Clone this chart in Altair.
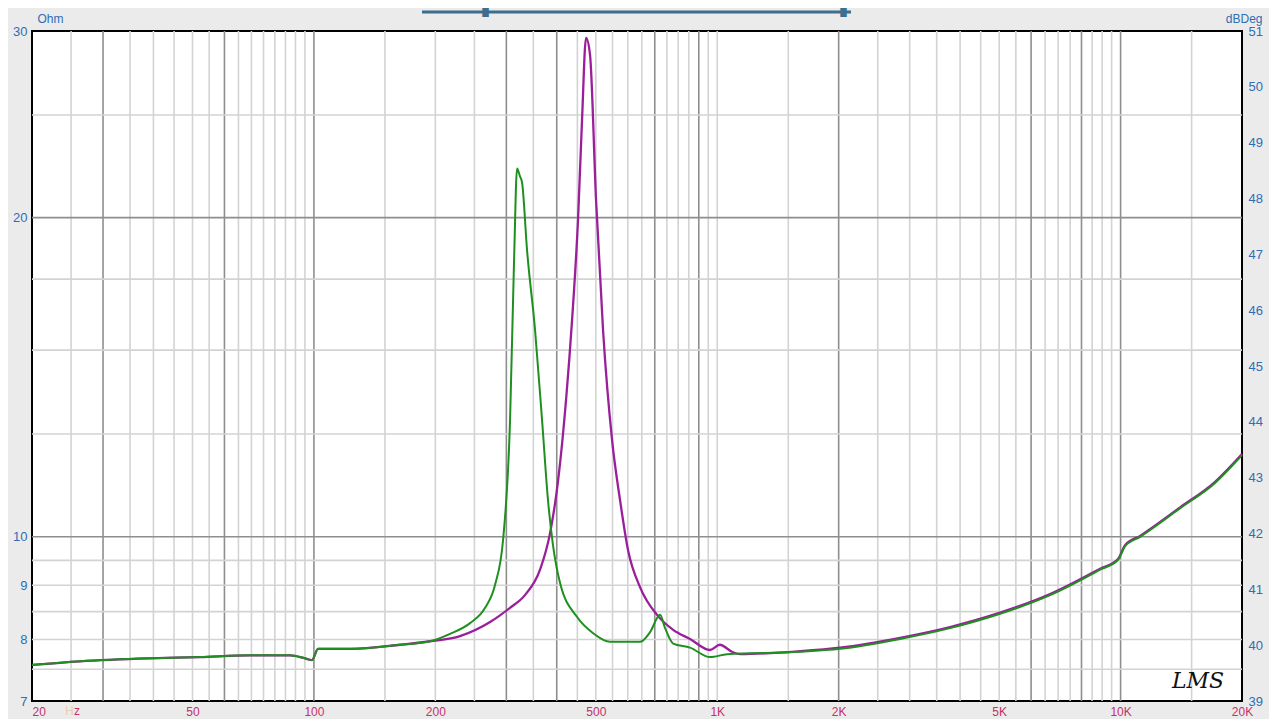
import altair as alt
import pandas as pd

# ---- data ----
green_freq = [20, 26.3, 39.2, 52.2, 69.4, 87.2, 95.0, 98.9, 102.4, 122.9, 163.5, 194.0, 217.5, 243.9,
              265.7, 281.3, 294.4, 306.4, 313.5, 318.9, 324.0, 328.1, 337.6, 353.4, 367.8, 380.5, 391.5,
              407.5, 449.3, 492.4, 542.2, 643.8, 681.5, 721.5, 742.4, 777.6, 855.9, 959.8, 1057.6, 1605,
              2016, 2840, 3777, 5026, 6688, 8897, 9858, 10260, 11180, 14050, 17150, 20000]
green_ohm = [7.57, 7.63, 7.68, 7.70, 7.73, 7.73, 7.68, 7.65, 7.84, 7.84, 7.91, 7.97, 8.10, 8.29,
             8.57, 9.01, 9.93, 12.89, 18.24, 22.25, 21.9, 21.6, 18.64, 15.67, 12.89, 10.83, 9.82,
             9.05, 8.40, 8.11, 7.96, 7.96, 8.13, 8.44, 8.20, 7.93, 7.86, 7.70, 7.75, 7.79,
             7.84, 8.01, 8.20, 8.46, 8.81, 9.31, 9.51, 9.80, 10.0, 10.64, 11.24, 11.94]

purple_freq = [20, 26.3, 39.2, 52.2, 69.4, 87.2, 95.0, 98.9, 102.4, 122.9, 163.5, 194.0, 230.3, 273.4,
               306.4, 333.6, 363.6, 385.0, 403.0, 421.8, 436.5, 451.6, 462.1, 472.8, 483.7, 500.6,
               521.0, 548.5, 574.1, 601.0, 643.8, 709.0, 777.6, 855.9, 959.8, 1015, 1088, 1139, 1605,
               2016, 2840, 3777, 5026, 6688, 8897, 9858, 10260, 11180, 14050, 17150, 20000]
purple_ohm = [7.57, 7.63, 7.68, 7.70, 7.73, 7.73, 7.68, 7.65, 7.84, 7.84, 7.91, 7.97, 8.06, 8.31,
              8.57, 8.81, 9.31, 10.08, 11.29, 13.46, 16.0, 19.9, 24.73, 29.55, 28.49, 20.78,
              15.67, 12.34, 10.83, 9.71, 8.96, 8.44, 8.17, 8.01, 7.82, 7.91, 7.79, 7.75, 7.80,
              7.86, 8.03, 8.22, 8.48, 8.83, 9.33, 9.53, 9.82, 10.02, 10.66, 11.27, 11.97]

x_ticks = [20, 50, 100, 200, 500, 1000, 2000, 5000, 10000, 20000]
ohm_ticks = [7, 8, 9, 10, 20, 30]
db_ticks = [39, 40, 41, 42, 43, 44, 45, 46, 47, 48, 49, 50, 51]

grid_v_minor = [25, 35, 40, 45, 50, 55, 65, 70, 75, 80, 85, 90, 95, 150, 200, 250, 350, 450, 500,
                550, 600, 650, 750, 800, 850, 950, 1000, 1500, 2500, 3000, 3500, 4000, 4500, 5000,
                5500, 6500, 7000, 7500, 8500, 9000, 9500, 15000]
grid_v_major = [30, 60, 100, 300, 400, 700, 900, 2000, 6000, 8000, 10000]
grid_h_minor = [7.5, 8, 8.5, 9, 9.5, 12.5, 15, 17.5, 25]
grid_h_major = [10, 20]

W, H = 1210, 670
FONT = "Liberation Sans"
BLUE = "#2f6db5"
RED = "#c4306a"

xscale = alt.Scale(type="log", domain=[20, 20000], nice=False)
yscale = alt.Scale(type="log", domain=[7, 30], nice=False)

xaxis = alt.Axis(values=x_ticks, grid=False, ticks=False, domain=False,
                 labelExpr="datum.value >= 1000 ? (datum.value / 1000) + 'K' : datum.value + ''",
                 labelFlush=False,
                 labelAlign=alt.condition("datum.value == 20", alt.value("left"), alt.value("center")),
                 labelColor=RED, labelFont=FONT, labelFontSize=12, labelPadding=5, title=None)
yaxis = alt.Axis(values=ohm_ticks, grid=False, ticks=False, domain=False, labelColor=BLUE,
                 labelFont=FONT, labelFontSize=13, labelPadding=5, labelFlush=False,
                 title="Ohm", titleAngle=0, titleX=5, titleY=-9, titleAlign="left",
                 titleBaseline="alphabetic", titleColor=BLUE, titleFont=FONT, titleFontSize=12,
                 titleFontWeight="normal")

X = lambda f: alt.X(f"{f}:Q", scale=xscale, axis=xaxis)
Y = lambda f: alt.Y(f"{f}:Q", scale=yscale, axis=yaxis)

vgrid = pd.DataFrame({"f": grid_v_minor + grid_v_major,
                      "major": [0] * len(grid_v_minor) + [1] * len(grid_v_major)})
hgrid = pd.DataFrame({"o": grid_h_minor + grid_h_major,
                      "major": [0] * len(grid_h_minor) + [1] * len(grid_h_major)})

gscale = alt.Scale(domain=[0, 1], range=["#d3d3d3", "#8e8e8e"])

vrules = alt.Chart(vgrid).mark_rule(strokeWidth=1.6).encode(
    x=X("f"), color=alt.Color("major:O", scale=gscale, legend=None))
hrules = alt.Chart(hgrid).mark_rule(strokeWidth=1.6).encode(
    y=Y("o"), color=alt.Color("major:O", scale=gscale, legend=None))

green_df = pd.DataFrame({"f": green_freq, "ohm": green_ohm})
purple_df = pd.DataFrame({"f": purple_freq, "ohm": purple_ohm})

purple_line = alt.Chart(purple_df).mark_line(color="#9a1f9a", strokeWidth=2.3,
                                             interpolate="monotone").encode(
    x=X("f"), y=Y("ohm"), order="f:Q")
green_line = alt.Chart(green_df).mark_line(color="#1f8f1f", strokeWidth=2.0,
                                           interpolate="monotone").encode(
    x=X("f"), y=Y("ohm"), order="f:Q")

hz_h = alt.Chart(pd.DataFrame({"t": ["H"]})).mark_text(
    font=FONT, fontSize=12, color="#e6cfb0", baseline="top", align="left").encode(
    text="t:N", x=alt.value(33), y=alt.value(H + 5))
hz_z = alt.Chart(pd.DataFrame({"t": ["z"]})).mark_text(
    font=FONT, fontSize=12, color=RED, baseline="top", align="left").encode(
    text="t:N", x=alt.value(42), y=alt.value(H + 5))

lms = alt.Chart(pd.DataFrame({"t": ["LMS"]})).mark_text(
    font="DejaVu Serif", fontSize=22, fontStyle="italic", color="#111111",
    align="center", baseline="alphabetic").encode(
    text="t:N", x=alt.value(1166), y=alt.value(657))

title = alt.Chart(pd.DataFrame({"t": ["Impedance vs Freq"]})).mark_text(
    font=FONT, fontSize=47, fontWeight="bold", color="#3c6e8f",
    align="center", baseline="alphabetic").encode(
    text="t:N", x=alt.value(605), y=alt.value(-24))
underline = alt.Chart(pd.DataFrame({"t": [0]})).mark_rule(color="#3c6e8f", strokeWidth=3).encode(
    x=alt.value(390), x2=alt.value(819), y=alt.value(-19))

inner = alt.layer(vrules, hrules, purple_line, green_line, hz_h, hz_z, lms, title, underline)

db_df = pd.DataFrame({"db": db_ticks, "f": [1000] * len(db_ticks)})
db_layer = alt.Chart(db_df).mark_point(opacity=0).encode(
    x=X("f"),
    y=alt.Y("db:Q", scale=alt.Scale(domain=[39, 51], nice=False, zero=False),
            axis=alt.Axis(orient="right", values=db_ticks, grid=False, ticks=False, domain=False,
                          labelColor=BLUE, labelFont=FONT, labelFontSize=13, labelPadding=6,
                          labelFlush=False, title="dBDeg", titleAngle=0, titleX=20, titleY=-9,
                          titleAlign="right", titleBaseline="alphabetic", titleColor=BLUE,
                          titleFont=FONT, titleFontSize=12, titleFontWeight="normal")))

chart = alt.layer(inner, db_layer).resolve_scale(y="independent").properties(
    width=W, height=H,
    autosize=alt.AutoSizeParams(type="none"),
    padding={"left": 24, "top": 23, "right": 27, "bottom": 18},
    background="#ebebeb",
).configure_view(stroke="#000000", strokeWidth=2, fill="#ffffff")

chart.save("out.html", embed_options={"renderer": "svg", "actions": False})
